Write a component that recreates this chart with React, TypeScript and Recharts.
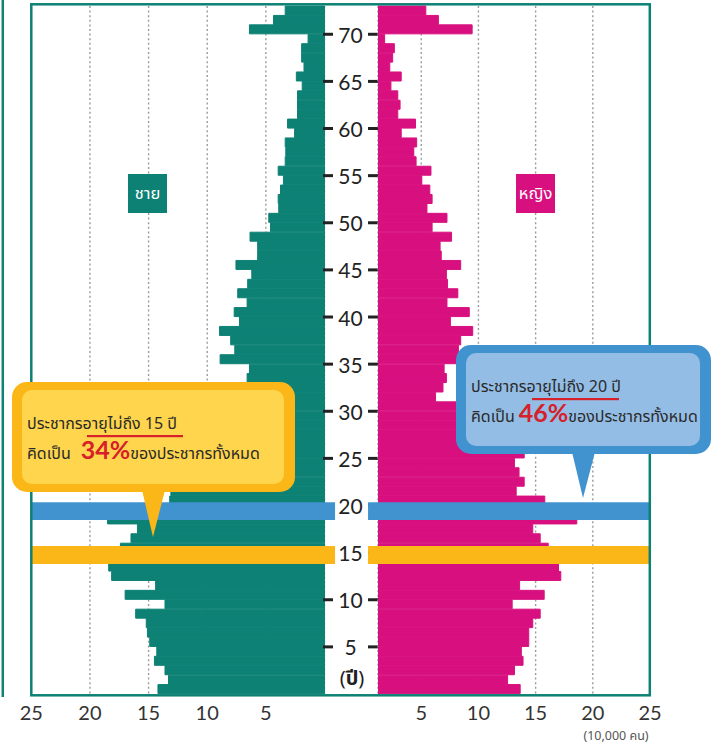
import { BarChart, Bar, XAxis, YAxis, CartesianGrid, ReferenceArea } from "recharts";

// ages 0..72, one bar per year (unit: 10,000 people)
const AGES = Array.from({ length: 73 }, (_, i) => i);

const MALE = [
  14.2, 13.3, 13.6, 14.5, 14.3, 14.9, 15.1, 15.2, 16.1, 13.6,
  17.0, 14.4, 18.15, 18.4, 18.0, 17.4, 16.5, 15.95, 18.5, 15.5,
  13.2, 13.1, 12.6, 12.1, 11.6, 11.0, 10.5, 10.0, 9.4, 8.9,
  8.3, 7.7, 7.1, 6.6, 6.4, 8.9, 7.65, 8.0, 8.95, 7.25,
  7.7, 6.6, 7.4, 6.55, 6.2, 7.55, 5.7, 5.7, 6.35, 4.6,
  4.75, 3.9, 3.95, 3.75, 3.5, 3.95, 3.35, 3.3, 3.35, 2.55,
  3.15, 2.3, 2.3, 2.3, 1.9, 2.4, 1.75, 1.95, 1.95, 1.4,
  6.4, 4.35, 3.35,
];

const FEMALE = [
  13.65, 12.55, 13.15, 13.9, 13.75, 14.4, 14.4, 14.75, 15.4, 12.95,
  15.75, 13.6, 17.2, 17.0, 16.6, 16.1, 15.4, 14.75, 18.6, 17.0,
  15.8, 13.3, 14.0, 13.55, 13.15, 14.0, 12.4, 11.8, 11.0, 10.3,
  9.6, 6.25, 6.9, 7.2, 7.0, 8.3, 8.25, 8.45, 9.5, 7.55,
  9.2, 7.25, 8.2, 7.3, 7.2, 8.45, 6.75, 6.65, 7.65, 5.95,
  7.25, 5.5, 5.95, 5.75, 5.05, 5.85, 4.55, 4.35, 4.6, 3.25,
  4.5, 2.95, 3.15, 2.95, 2.35, 3.25, 2.25, 2.5, 2.65, 1.8,
  9.45, 6.5, 5.4,
];

const AGE_TICKS = [5, 10, 15, 20, 25, 30, 35, 40, 45, 50, 55, 60, 65, 70];
const VALUE_TICKS = [5, 10, 15, 20, 25];

// highlighted age bands (under 20 / under 15)
const BLUE_BAND = [18.45, 20.35];
const ORANGE_BAND = [13.8, 15.7];

const TEAL = "#0e8175";
const MAGENTA = "#d8107f";
const BLUE = "#4193cf";
const ORANGE = "#fbb718";
const RED = "#d6202a";
const NUM_FONT = "Lato, 'DejaVu Sans', sans-serif";
const THAI_FONT = "Tahoma, 'Noto Sans Thai', Loma, Garuda, sans-serif";

const rows = AGES.map((age, i) => ({
  age,
  mid: age + 0.5,
  male: MALE[i],
  female: FEMALE[i],
}));

const LEFT_MARGIN = { top: 6, right: 334.5, bottom: 22, left: 31.3 };
const RIGHT_MARGIN = { top: 6, right: 63, bottom: 22, left: 378 };
const RIGHT_DOMAIN = [1.22, 25];

function AgeTick(props: any) {
  const { x, y, payload } = props;
  return (
    <g>
      <line x1={x - 1.5} x2={x + 8.5} y1={y} y2={y} stroke="#222" strokeWidth={3} />
      <line x1={x + 43.5} x2={x + 53.5} y1={y} y2={y} stroke="#222" strokeWidth={3} />
      <text
        x={x + 26}
        y={y}
        textAnchor="middle"
        dominantBaseline="central"
        fontSize={21}
        fontFamily={NUM_FONT}
        fill="#222"
      >
        {payload.value}
      </text>
    </g>
  );
}

const axisTick = { fontSize: 20, fill: "#333", fontFamily: NUM_FONT };

function Callout({ x, y, w, h, tipX, tipY, outer, inner, limit, pct, pctGap, lineX, lineW }: any) {
  return (
    <g>
      <rect x={x} y={y} width={w} height={h} rx={15} fill={outer} />
      <polygon
        points={`${tipX - 11},${y + h - 2} ${tipX + 12},${y + h - 2} ${tipX},${tipY}`}
        fill={outer}
      />
      <rect x={x + 10} y={y + 8} width={w - 21} height={h - 16} rx={10} fill={inner} />
      <text x={x + 15} y={y + 47} fontSize={16} fontFamily={THAI_FONT} fill="#2a2a2a">
        {`ประชากรอายุไม่ถึง ${limit} ปี`}
      </text>
      <rect x={lineX} y={y + 53} width={lineW} height={2.2} fill={RED} />
      <text x={x + 15} y={y + 77} fontSize={16} fontFamily={THAI_FONT} fill="#2a2a2a">
        คิดเป็น
        <tspan dx={pctGap} fontSize={25} fontWeight="bold" fill={RED} fontFamily={NUM_FONT}>
          {pct}
        </tspan>
        ของประชากรทั้งหมด
      </text>
    </g>
  );
}

// band overlay charts share the scales of the bar charts but sit above them
function BandChart({ margin, domain, reversed, x1, x2 }: any) {
  return (
    <BarChart
      width={713}
      height={746}
      layout="vertical"
      data={rows}
      margin={{ ...margin, right: margin.right + (reversed ? 54 : 0), bottom: 52 }}
    >
      <XAxis type="number" domain={domain} reversed={reversed} allowDataOverflow hide />
      <YAxis type="number" dataKey="mid" domain={[0, 73]} reversed hide />
      <ReferenceArea y1={BLUE_BAND[0]} y2={BLUE_BAND[1]} x1={x1} x2={x2} fill={BLUE} fillOpacity={1} ifOverflow="visible" />
      <ReferenceArea y1={ORANGE_BAND[0]} y2={ORANGE_BAND[1]} x1={x1} x2={x2} fill={ORANGE} fillOpacity={1} ifOverflow="visible" />
    </BarChart>
  );
}

const layer: React.CSSProperties = { position: "absolute", left: 0, top: 0 };

const genderBox: React.CSSProperties = {
  position: "absolute",
  top: 174,
  width: 39,
  height: 39,
  color: "#fff",
  fontFamily: THAI_FONT,
  fontSize: 16.5,
  display: "flex",
  alignItems: "center",
  justifyContent: "center",
};

export default function App() {
  return (
    <div style={{ position: "absolute", left: 0, top: 0, width: 713, height: 746, background: "#fff" }}>
      <div style={layer}>
        <BarChart width={713} height={746} layout="vertical" data={rows} margin={LEFT_MARGIN} barCategoryGap={0} barGap={0}>
          <CartesianGrid horizontal={false} stroke="#9a9a9a" strokeDasharray="2 2.6" strokeWidth={1.4} />
          <XAxis
            type="number"
            domain={[0, 25]}
            reversed
            ticks={VALUE_TICKS}
            tick={axisTick}
            tickLine={false}
            axisLine={false}
            tickMargin={6}
          />
          <YAxis
            type="number"
            dataKey="mid"
            domain={[0, 73]}
            reversed
            orientation="right"
            width={54}
            ticks={AGE_TICKS}
            interval={0}
            tick={<AgeTick />}
            tickSize={0}
            tickMargin={0}
            tickLine={false}
            axisLine={false}
          />
          <Bar dataKey="male" fill={TEAL} stroke={TEAL} strokeWidth={1} isAnimationActive={false} />
        </BarChart>
      </div>
      <div style={layer}>
        <BarChart width={713} height={746} layout="vertical" data={rows} margin={RIGHT_MARGIN} barCategoryGap={0} barGap={0}>
          <CartesianGrid horizontal={false} stroke="#9a9a9a" strokeDasharray="2 2.6" strokeWidth={1.4} />
          <XAxis
            type="number"
            domain={RIGHT_DOMAIN}
            allowDataOverflow
            ticks={VALUE_TICKS}
            tick={axisTick}
            tickLine={false}
            axisLine={false}
            tickMargin={6}
          />
          <YAxis type="number" dataKey="mid" domain={[0, 73]} reversed hide />
          <Bar dataKey="female" fill={MAGENTA} stroke={MAGENTA} strokeWidth={1} isAnimationActive={false} />
        </BarChart>
      </div>
      <div style={layer}>
        <BandChart margin={LEFT_MARGIN} domain={[0, 25]} reversed x1={25} x2={-0.9} />
      </div>
      <div style={layer}>
        <BandChart margin={RIGHT_MARGIN} domain={RIGHT_DOMAIN} reversed={false} x1={0.35} x2={25} />
      </div>

      <div style={{ ...genderBox, left: 128, background: TEAL }}>ชาย</div>
      <div style={{ ...genderBox, left: 516, background: MAGENTA }}>หญิง</div>

      <svg width={713} height={746} style={layer}>
        <line x1={2.8} x2={2.8} y1={0} y2={697} stroke={TEAL} strokeWidth={2.5} />
        <rect x={31.3} y={4.3} width={618.5} height={691} fill="none" stroke={TEAL} strokeWidth={2.5} />
        <text x={352} y={679} textAnchor="middle" dominantBaseline="central" fontSize={20} fontFamily={THAI_FONT} fill="#222">
          (<tspan fontWeight="bold">ปี</tspan>)
        </text>
        <text x={616} y={736} textAnchor="middle" dominantBaseline="central" fontSize={12.5} fontFamily={THAI_FONT} fill="#555">
          (10,000 คน)
        </text>
        <Callout
          x={12}
          y={382}
          w={283}
          h={110}
          tipX={153}
          tipY={537}
          outer={ORANGE}
          inner="#fed54c"
          limit={15}
          pct="34%"
          pctGap={10}
          lineX={87}
          lineW={96}
        />
        <Callout
          x={456}
          y={345}
          w={255}
          h={109}
          tipX={583}
          tipY={498}
          outer={BLUE}
          inner="#93bde5"
          limit={20}
          pct="46%"
          pctGap={4}
          lineX={532}
          lineW={87}
        />
      </svg>
    </div>
  );
}
